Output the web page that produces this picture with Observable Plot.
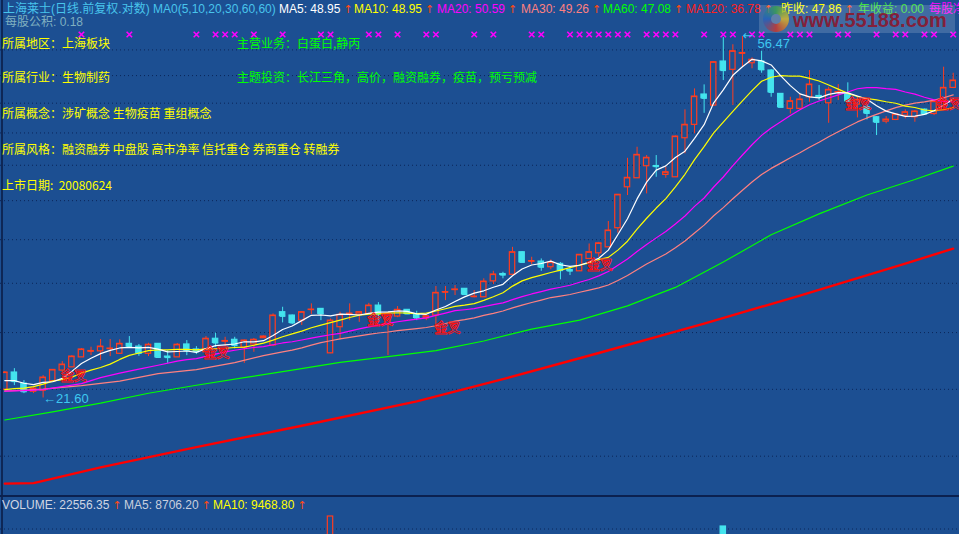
<!DOCTYPE html>
<html><head><meta charset="utf-8">
<script src="https://cdn.jsdelivr.net/npm/d3@7"></script>
<script src="https://cdn.jsdelivr.net/npm/@observablehq/plot@0.6"></script>
<style>
html,body{margin:0;padding:0;background:#1c4f92;}
#wrap{position:relative;width:959px;height:534px;overflow:hidden;background:#1c4f92;font-family:"Liberation Sans","Noto Sans CJK SC",sans-serif;}
#price{position:absolute;left:0;top:0;}
#vol{position:absolute;left:0;top:496px;}
.t{position:absolute;white-space:nowrap;font-size:12px;line-height:14px;}
.c{position:absolute;white-space:nowrap;font-size:12px;line-height:14px;font-family:"Noto Sans CJK SC",sans-serif;}
.ar{color:#ff4a10;margin-left:3px;font-family:"DejaVu Sans",sans-serif;font-size:11px;}
.vline{position:absolute;left:1px;top:0;width:2px;height:534px;background:#0e2756;}
.sep{position:absolute;left:0;top:495px;width:959px;height:2px;background:#0b2150;}
#wm{position:absolute;left:759px;top:5px;width:196px;height:28px;background:rgba(255,255,255,0.16);}
#logo{position:absolute;left:763px;top:6px;width:26px;height:26px;border-radius:50%;background:conic-gradient(#3aa54a,#e8c020,#d83020,#2060c0,#3aa54a);opacity:0.75;}
#logo:after{content:"";position:absolute;left:8px;top:8px;width:10px;height:10px;border-radius:50%;background:#6a86ac;}
#wmt{position:absolute;left:793px;top:10px;font:bold 20px/20px "Liberation Sans",sans-serif;color:rgba(140,22,44,0.9);}
</style></head>
<body>
<div id="wrap">
  <div id="price"></div>
  <div id="vol"></div>
  <div class="vline"></div>
  <div class="sep"></div>

  <div class="t" style="left:3px;top:2px;color:#48c4ec">上海莱士(日线.前复权.对数) MA0(5,10,20,30,60,60)</div>
  <div class="t" style="left:279px;top:2px;color:#ffffff">MA5: 48.95<span class="ar">↑</span></div>
  <div class="t" style="left:354px;top:2px;color:#ffff00">MA10: 48.95<span class="ar">↑</span></div>
  <div class="t" style="left:437px;top:2px;color:#ff00ff">MA20: 50.59<span class="ar">↑</span></div>
  <div class="t" style="left:521px;top:2px;color:#ff8080">MA30: 49.26<span class="ar">↑</span></div>
  <div class="t" style="left:603px;top:2px;color:#00ff00">MA60: 47.08<span class="ar">↑</span></div>
  <div class="t" style="left:686px;top:2px;color:#ff2020">MA120: 36.78<span class="ar">↑</span></div>
  <div class="t" style="left:781px;top:2px;color:#ffff00">昨收: 47.86<span class="ar">↑</span></div>
  <div class="t" style="left:858px;top:2px;color:#40e040">年收益: 0.00</div>
  <div class="t" style="left:929px;top:2px;color:#ff00ff">每股净资产</div>
  <div class="t" style="left:5px;top:15px;color:#7fb0c0">每股公积: 0.18</div>

  <div class="c" style="left:2px;top:36px;color:#ffff00">所属地区：上海板块</div>
  <div class="c" style="left:237px;top:36px;color:#00ff00">主营业务：白蛋白,静丙</div>
  <div class="c" style="left:2px;top:70px;color:#ffff00">所属行业：生物制药</div>
  <div class="c" style="left:237px;top:70px;color:#00ff00">主题投资：长江三角，高价，融资融券，疫苗，预亏预减</div>
  <div class="c" style="left:2px;top:106px;color:#ffff00">所属概念：涉矿概念 生物疫苗 重组概念</div>
  <div class="c" style="left:2px;top:142px;color:#ffff00">所属风格：融资融券 中盘股 高市净率 信托重仓 券商重仓 转融券</div>
  <div class="c" style="left:2px;top:178px;color:#ffff00">上市日期:&nbsp;&nbsp;20080624</div>

  <div class="t" style="left:2px;top:498px;color:#d0d6e2">VOLUME: 22556.35<span class="ar">↑</span></div>
  <div class="t" style="left:124px;top:498px;color:#c8d0de">MA5: 8706.20<span class="ar">↑</span></div>
  <div class="t" style="left:213px;top:498px;color:#ffff00">MA10: 9468.80<span class="ar">↑</span></div>

  <div id="wm"></div>
  <div id="logo"></div>
  <div id="wmt">www.55188.com</div>
</div>
<script>
// ---------- data ----------
const candleOpen = [22.08,23.11,22.44,21.96,22.02,22.58,23.23,23.43,24.06,24.43,
24.45,24.60,24.29,24.94,24.76,24.29,24.94,24.11,24.06,24.90,
24.57,24.39,25.28,25.09,25.21,24.70,24.90,25.32,24.83,27.13,
26.89,26.53,27.30,27.37,24.32,26.07,27.00,26.96,27.01,27.61,
26.25,26.82,27.30,26.96,26.69,26.89,28.59,28.78,28.87,28.25,
28.23,29.45,30.03,29.97,31.82,31.04,31.04,30.58,30.85,30.35,
30.25,31.26,31.73,32.24,33.92,37.82,38.74,40.00,40.02,39.09,
38.84,43.09,44.65,48.40,47.00,52.84,51.69,53.96,52.60,52.84,
51.59,48.48,46.59,46.59,48.05,48.21,47.29,48.65,48.48,47.13,
46.79,45.56,45.04,45.24,45.76,45.56,46.50,45.96,47.54,49.26];
const candleHigh = [23.17,23.35,22.62,22.20,22.92,23.29,23.79,24.17,24.63,24.72,
25.23,25.23,25.21,25.43,24.90,24.98,24.96,24.50,24.96,25.16,
24.76,25.43,25.66,25.38,25.38,25.19,25.30,25.47,27.01,27.49,
26.93,27.18,27.74,27.40,26.65,27.13,27.74,27.18,27.78,27.83,
27.11,27.54,27.32,27.20,26.85,29.05,29.05,29.13,28.89,28.74,
29.65,30.25,30.17,32.24,31.88,31.40,31.26,31.18,30.96,30.58,
31.62,32.53,32.67,34.53,37.10,40.85,42.07,41.15,41.15,39.89,
43.34,46.47,49.13,49.66,52.84,56.31,55.25,56.47,53.36,54.30,
51.73,48.52,48.05,48.48,51.59,49.57,49.34,49.70,49.93,48.05,
47.13,45.64,45.64,46.01,46.47,46.38,46.56,47.63,52.05,51.22];
const candleLow = [22.02,22.32,21.85,21.85,21.60,22.56,23.11,23.42,24.05,24.17,
23.85,24.11,24.27,24.70,24.13,24.11,24.05,23.68,24.05,24.17,
24.24,24.37,24.72,24.76,24.61,23.68,24.39,25.30,24.76,26.37,
26.25,26.19,26.96,26.53,24.30,25.21,26.53,26.41,26.96,26.41,
24.17,26.74,26.96,26.53,26.53,25.96,27.98,28.36,28.40,28.19,
28.21,29.20,29.65,29.91,30.96,30.79,30.25,30.37,29.57,29.91,
30.23,31.20,31.40,32.22,33.47,37.00,38.71,37.16,38.84,38.74,
38.81,41.34,43.60,46.04,46.94,50.23,47.00,52.05,51.83,51.22,
48.05,46.75,45.96,46.50,47.42,47.63,44.84,47.63,47.50,45.48,
45.24,43.40,44.77,45.16,45.37,44.96,45.94,45.76,47.00,49.17];
const candleClose = [23.11,22.56,21.96,22.14,22.80,23.27,23.60,24.11,24.57,24.47,
24.76,24.63,24.94,24.76,24.32,24.88,24.06,24.05,24.88,24.50,
24.43,25.28,25.00,25.13,24.83,25.16,25.21,25.43,26.89,26.84,
26.37,27.13,27.32,27.01,26.53,26.94,27.03,27.13,27.61,27.01,
27.03,27.30,27.01,26.72,26.84,28.56,28.62,28.82,28.44,28.28,
29.43,29.99,29.95,31.82,30.98,31.08,30.58,30.96,30.31,30.27,
31.60,31.82,32.58,33.71,37.07,38.78,41.22,40.90,39.96,39.36,
43.28,44.65,48.14,47.92,52.74,51.59,54.30,54.04,53.08,51.69,
48.69,46.79,47.54,47.76,49.70,48.08,49.00,48.71,47.54,47.72,
46.04,44.96,45.28,45.89,46.17,46.26,45.96,47.50,49.26,50.23];

// moving averages (null = not read)
const ma5 = [22.62,22.62,22.46,22.38,22.51,22.55,22.75,23.18,23.67,24.00,
24.30,24.51,24.67,24.71,24.68,24.71,24.59,24.41,24.44,24.47,
24.38,24.63,24.82,24.87,24.93,25.08,25.07,25.15,25.50,25.91,
26.15,26.53,26.91,26.93,26.87,26.99,26.97,26.93,27.05,27.14,
27.16,27.22,27.19,27.01,26.98,27.29,27.55,27.91,28.26,28.54,
28.72,28.99,29.22,29.89,30.43,30.76,30.88,31.08,30.78,30.64,
30.74,30.99,31.32,32.00,33.36,34.79,36.67,38.34,39.59,40.04,
40.94,41.63,43.08,44.67,47.35,49.01,50.94,52.12,53.15,52.94,
52.36,50.86,49.56,48.49,48.10,47.97,48.42,48.65,48.61,48.21,
47.80,46.99,46.31,45.98,45.67,45.71,45.91,46.36,47.03,47.84];
const ma10 = [22.08,22.14,22.17,22.26,22.41,22.59,22.68,22.83,23.07,23.26,
23.42,23.63,23.93,24.19,24.34,24.50,24.55,24.54,24.58,24.58,
24.55,24.61,24.62,24.65,24.70,24.73,24.85,24.99,25.19,25.42,
25.61,25.80,26.03,26.22,26.39,26.57,26.75,26.92,26.99,27.01,
27.07,27.09,27.06,27.03,27.06,27.22,27.38,27.55,27.64,27.76,
28.00,28.27,28.57,29.08,29.49,29.74,29.94,30.15,30.34,30.54,
30.75,30.94,31.20,31.39,32.00,32.77,33.83,34.83,35.79,36.70,
37.87,39.15,40.71,42.13,43.70,44.98,46.28,47.60,48.91,50.14,
50.68,50.90,50.84,50.82,50.52,50.17,49.64,49.10,48.55,48.15,
47.89,47.71,47.48,47.29,46.94,46.76,46.45,46.33,46.50,46.76];
const ma20 = [21.99,null,22.02,null,22.08,null,22.26,null,22.44,null,
22.80,null,23.07,null,23.32,null,23.56,null,23.82,23.92,
23.98,24.12,24.27,24.42,24.52,24.62,24.70,24.76,24.88,25.00,
25.08,25.20,25.32,25.44,25.55,25.65,25.80,25.95,26.09,26.21,
26.34,26.45,26.55,26.63,26.73,26.90,27.07,27.24,27.31,27.39,
27.54,27.68,27.81,28.05,28.28,28.48,28.66,28.85,28.99,29.15,
29.38,29.60,29.88,30.23,30.74,31.25,31.88,32.49,33.06,33.62,
34.31,35.04,35.95,36.76,37.85,38.87,40.06,41.21,42.35,43.42,
44.28,45.02,45.77,46.48,47.11,47.57,47.96,48.35,48.73,49.15,
49.29,49.30,49.16,49.06,48.73,48.46,48.05,47.72,47.53,47.45];
const ma30 = [21.99,null,null,null,22.11,null,null,null,22.32,null,
null,null,22.59,null,null,null,23.04,null,null,null,
23.29,null,null,null,23.73,null,null,24.17,null,24.42,
24.53,24.68,24.86,25.02,25.15,25.27,25.38,25.48,25.58,25.67,
25.74,25.83,25.90,25.97,26.05,26.17,26.33,26.49,26.60,26.73,
26.90,27.05,27.22,27.44,27.65,27.84,28.02,28.21,28.32,28.44,
28.61,28.77,28.94,29.17,29.52,29.91,30.38,30.84,31.25,31.67,
32.21,32.79,33.49,34.20,35.06,35.83,36.68,37.53,38.35,39.13,
39.77,40.33,40.92,41.45,42.07,42.64,43.25,43.84,44.42,45.00,
45.48,45.92,46.34,46.75,47.05,47.30,47.46,47.68,47.99,48.35];
const ma60Idx = [0,5,10,15,20,25,30,35,40,45,50,55,60,65,70,75,80,85,90,95,99];
const ma60 = [20.37,20.81,21.30,21.87,22.34,22.80,23.26,23.74,24.11,24.50,25.13,25.94,26.57,27.59,28.98,31.00,33.33,35.24,37.05,38.61,40.01];
const ma120Idx = [0,3,10,20,31,43,52,62,73,83,94,99];
const ma120 = [17.20,17.22,17.96,18.95,20.06,21.40,22.71,24.34,26.32,28.36,30.88,32.13];

const gridLevels = [18.5,22.1,25.7,29.3,32.9,36.5,40.1,43.7,47.3,50.9,54.5];
const signalIdx = [8,13,20,22,23,24,26,29,33,34,38,39,41,44,45,49,51,55,56,59,60,61,62,63,64,65,67,68,69,70,73,75,76,78,79,82,83,84,87,88,91,93,94,96,97,99];
const crossIdx = [7.2,22.1,39.2,46.2,62.1,89.1,98.5];
const crossPrice = [22.88,24.34,26.60,26.05,30.80,47.26,47.26];
const extremeIdx = [4,77];
const extremePrice = [21.60,56.47];
const volIdx = [34,75];
const volValue = [95000,83000];
const volGrid = [80000];

// ---------- build ----------
const BG="#1c4f92", RED="#ff3d1f", CYAN="#44e4ee";
const candles = candleOpen.map((o,i)=>({i,o,h:candleHigh[i],l:candleLow[i],c:candleClose[i],up:candleClose[i]>=o}));
const series = (arr, idx) => arr.map((v,k)=>({i: idx? idx[k] : k, v})).filter(d=>d.v!=null);
const half = 0.28;
const xScale = {domain:[0,99], range:[4.3,952.7], axis:null};

const price = Plot.plot({
  width:959, height:496, margin:0,
  x: xScale,
  y: {type:"log", domain:[16.62,62.15], range:[496,0], axis:null},
  style:{background:"transparent", overflow:"hidden", fontFamily:"Liberation Sans"},
  marks:[
    Plot.ruleY(gridLevels, {stroke:"#0b2659", strokeDasharray:"1,3", strokeWidth:1}),
    Plot.ruleX(candles, {x:"i", y1:"l", y2:"h", stroke:d=>d.up?RED:CYAN, strokeWidth:1}),
    Plot.rect(candles, {x1:d=>d.i-half, x2:d=>d.i+half, y1:d=>Math.min(d.o,d.c), y2:d=>Math.max(d.o,d.c),
      fill:d=>d.up?BG:CYAN, stroke:d=>d.up?RED:CYAN, strokeWidth:1.2}),
    Plot.link(candles, {x1:d=>d.i-half, x2:d=>d.i+half, y1:"c", y2:"c", stroke:d=>d.up?RED:CYAN, strokeWidth:1.2}),
    Plot.line(series(ma60, ma60Idx), {x:"i", y:"v", stroke:"#00ff00", strokeWidth:1.2}),
    Plot.line(series(ma30), {x:"i", y:"v", stroke:"#ff8080", strokeWidth:1.2}),
    Plot.line(series(ma20), {x:"i", y:"v", stroke:"#ff00ff", strokeWidth:1.2}),
    Plot.line(series(ma10), {x:"i", y:"v", stroke:"#ffff00", strokeWidth:1.2}),
    Plot.line(series(ma5), {x:"i", y:"v", stroke:"#ffffff", strokeWidth:1.2}),
    Plot.line(series(ma120, ma120Idx), {x:"i", y:"v", stroke:"#ff0000", strokeWidth:2.4}),
    Plot.dot(signalIdx, {x:d=>d, frameAnchor:"top", dy:34, symbol:"times", r:2.6, stroke:"#ff00ff", strokeWidth:1.6}),
    Plot.text(crossIdx.map((d,k)=>({i:d,p:crossPrice[k]})), {x:"i", y:"p", text:()=>"金叉",
      fill:"none", stroke:"#ff1010", strokeWidth:0.9, fontSize:13, fontWeight:"bold", fontFamily:"Noto Sans CJK SC"}),
    Plot.text([{i:extremeIdx[0], p:extremePrice[0]}], {x:"i", y:"p", text:d=>"←"+d.p.toFixed(2),
      textAnchor:"start", dy:1, fill:"#3ec8f0", fontSize:13, fontFamily:"Liberation Sans"}),
    Plot.text([{i:extremeIdx[1], p:extremePrice[1]}], {x:"i", y:"p", text:()=>"←",
      textAnchor:"start", dy:-1, fill:"#3ec8f0", fontSize:13, fontFamily:"DejaVu Sans"}),
    Plot.text([{i:extremeIdx[1], p:extremePrice[1]}], {x:"i", y:"p", text:d=>d.p.toFixed(2),
      textAnchor:"start", dx:15, dy:7, fill:"#3ec8f0", fontSize:13, fontFamily:"Liberation Sans"})
  ]
});
document.getElementById("price").append(price);

const volData = volIdx.map((d,k)=>({i:d, v:volValue[k], up:candles[d].up}));
const vol = Plot.plot({
  width:959, height:38, margin:0,
  x: xScale,
  y: {domain:[0,95000], range:[99.2,20], axis:null},
  style:{background:"transparent", overflow:"hidden"},
  marks:[
    Plot.ruleY(volGrid, {stroke:"#0b2659", strokeDasharray:"1,3", strokeWidth:1}),
    Plot.rect(volData, {x1:d=>d.i-half, x2:d=>d.i+half, y1:0, y2:"v",
      fill:d=>d.up?BG:CYAN, stroke:d=>d.up?RED:CYAN, strokeWidth:1.2})
  ]
});
document.getElementById("vol").append(vol);
</script>
</body></html>
